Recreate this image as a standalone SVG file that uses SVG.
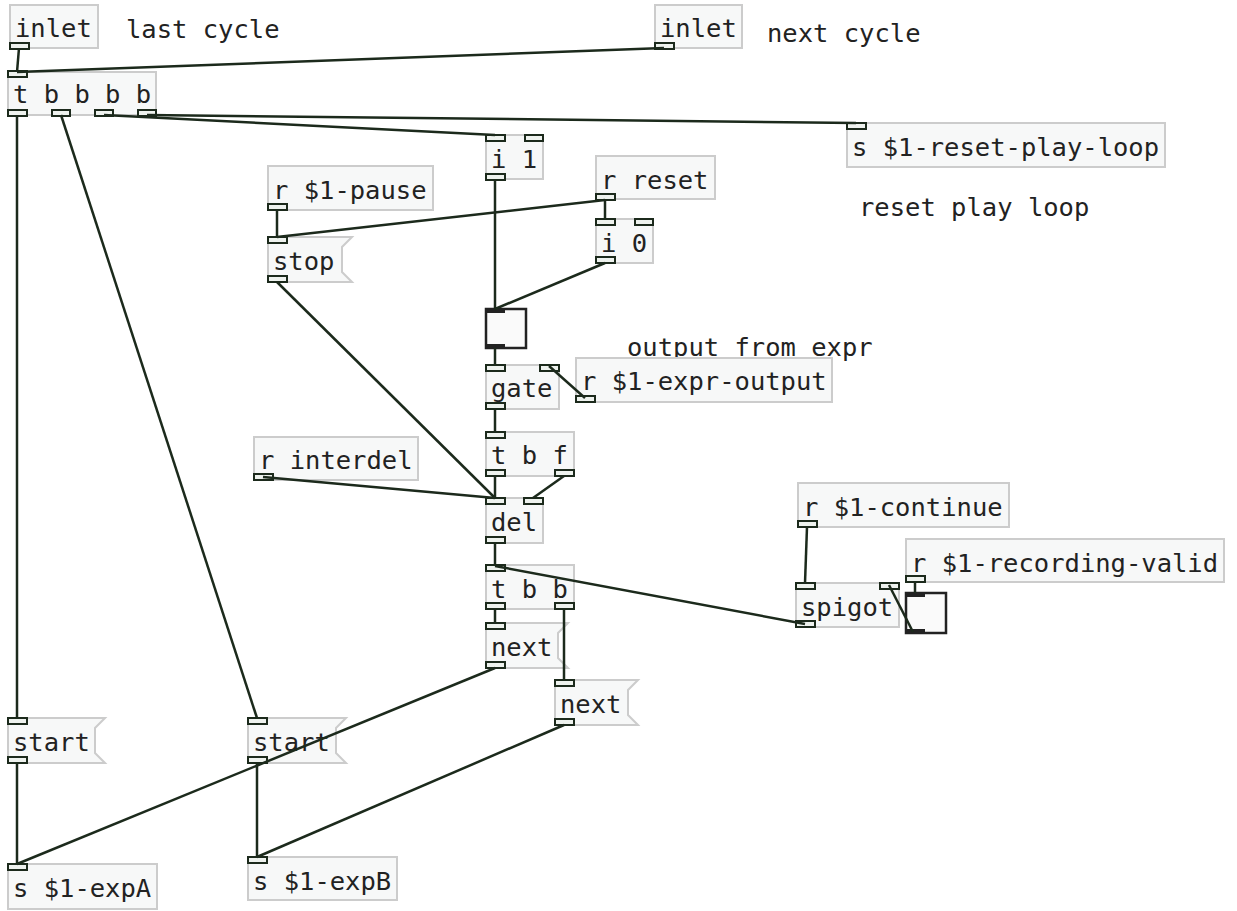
<svg xmlns="http://www.w3.org/2000/svg" width="1237" height="911" viewBox="0 0 1237 911">
<style>
.bx{fill:#f7f8f8;stroke:#cccccc;stroke-width:2}
.io{fill:#eef2ee;stroke:#1c2a1c;stroke-width:2}
.t{font-family:"DejaVu Sans Mono",monospace;font-size:25.5px;fill:#222}
.c{stroke:#1c2a1c;stroke-width:2.5;fill:none}
.tg{fill:#fafafa;stroke:#222;stroke-width:2.5}
.tb{fill:#222}
</style>
<rect width="1237" height="911" fill="#ffffff"/>
<g id="comments">
<text class="t" x="126" y="38">last cycle</text>
<text class="t" x="767" y="42">next cycle</text>
<text class="t" x="859" y="216">reset play loop</text>
<text class="t" x="627" y="356">output from expr</text>
</g>
<g id="inlet1">
<rect class="bx" x="10" y="5" width="88" height="43"/>
<text class="t" x="15" y="37">inlet</text>
<rect class="io" x="10" y="43" width="19" height="6"/>
</g>
<g id="inlet2">
<rect class="bx" x="655" y="5" width="87" height="43"/>
<text class="t" x="660" y="37">inlet</text>
<rect class="io" x="655" y="43" width="19" height="6"/>
</g>
<g id="trigger1">
<rect class="bx" x="8" y="72" width="148" height="43"/>
<text class="t" x="13" y="103">t b b b b</text>
<rect class="io" x="8" y="71" width="19" height="6"/>
<rect class="io" x="8" y="110" width="19" height="6"/>
<rect class="io" x="52" y="110" width="18" height="6"/>
<rect class="io" x="95" y="110" width="18" height="6"/>
<rect class="io" x="138" y="110" width="18" height="6"/>
</g>
<g id="send-reset">
<rect class="bx" x="847" y="123" width="318" height="44"/>
<text class="t" x="852" y="156">s $1-reset-play-loop</text>
<rect class="io" x="847" y="123" width="19" height="6"/>
</g>
<g id="i1">
<rect class="bx" x="486" y="135" width="57" height="44"/>
<text class="t" x="491" y="168">i 1</text>
<rect class="io" x="486" y="135" width="19" height="6"/>
<rect class="io" x="525" y="135" width="18" height="6"/>
<rect class="io" x="486" y="174" width="19" height="6"/>
</g>
<g id="r-pause">
<rect class="bx" x="268" y="166" width="165" height="44"/>
<text class="t" x="273" y="199">r $1-pause</text>
<rect class="io" x="268" y="204" width="19" height="6"/>
</g>
<g id="r-reset">
<rect class="bx" x="596" y="156" width="119" height="43"/>
<text class="t" x="601" y="189">r reset</text>
<rect class="io" x="596" y="194" width="19" height="6"/>
</g>
<g id="i0">
<rect class="bx" x="596" y="219" width="57" height="44"/>
<text class="t" x="601" y="252">i 0</text>
<rect class="io" x="596" y="219" width="19" height="6"/>
<rect class="io" x="635" y="219" width="18" height="6"/>
<rect class="io" x="596" y="257" width="19" height="6"/>
</g>
<g id="stop">
<path class="bx" d="M268,237 H352 L342,247 V272 L352,282 H268 Z"/>
<text class="t" x="273" y="270">stop</text>
<rect class="io" x="268" y="237" width="19" height="6"/>
<rect class="io" x="268" y="276" width="19" height="6"/>
</g>
<g id="toggle1">
<rect class="tg" x="486" y="309" width="40" height="39"/>
<rect class="tb" x="486" y="309" width="19" height="4"/>
<rect class="tb" x="486" y="344" width="19" height="4"/>
</g>
<g id="gate">
<rect class="bx" x="486" y="365" width="73" height="44"/>
<text class="t" x="491" y="397">gate</text>
<rect class="io" x="486" y="365" width="19" height="6"/>
<rect class="io" x="540" y="365" width="19" height="6"/>
<rect class="io" x="486" y="403" width="19" height="6"/>
</g>
<g id="r-expr-output">
<rect class="bx" x="576" y="358" width="256" height="44"/>
<text class="t" x="581" y="390">r $1-expr-output</text>
<rect class="io" x="576" y="396" width="19" height="6"/>
</g>
<g id="tbf">
<rect class="bx" x="486" y="432" width="88" height="44"/>
<text class="t" x="491" y="464">t b f</text>
<rect class="io" x="486" y="432" width="19" height="6"/>
<rect class="io" x="486" y="470" width="19" height="6"/>
<rect class="io" x="555" y="470" width="19" height="6"/>
</g>
<g id="r-interdel">
<rect class="bx" x="254" y="437" width="164" height="43"/>
<text class="t" x="259" y="469">r interdel</text>
<rect class="io" x="254" y="474" width="19" height="6"/>
</g>
<g id="del">
<rect class="bx" x="486" y="498" width="57" height="45"/>
<text class="t" x="491" y="531">del</text>
<rect class="io" x="486" y="498" width="19" height="6"/>
<rect class="io" x="524" y="498" width="19" height="6"/>
<rect class="io" x="486" y="537" width="19" height="6"/>
</g>
<g id="tbb">
<rect class="bx" x="486" y="565" width="88" height="44"/>
<text class="t" x="491" y="598">t b b</text>
<rect class="io" x="486" y="565" width="19" height="6"/>
<rect class="io" x="486" y="603" width="19" height="6"/>
<rect class="io" x="555" y="603" width="19" height="6"/>
</g>
<g id="r-continue">
<rect class="bx" x="798" y="483" width="211" height="44"/>
<text class="t" x="803" y="516">r $1-continue</text>
<rect class="io" x="798" y="521" width="19" height="6"/>
</g>
<g id="r-recording-valid">
<rect class="bx" x="906" y="539" width="318" height="43"/>
<text class="t" x="911" y="572">r $1-recording-valid</text>
<rect class="io" x="906" y="576" width="19" height="6"/>
</g>
<g id="spigot">
<rect class="bx" x="796" y="583" width="103" height="44"/>
<text class="t" x="801" y="616">spigot</text>
<rect class="io" x="796" y="583" width="19" height="6"/>
<rect class="io" x="880" y="583" width="19" height="6"/>
<rect class="io" x="796" y="621" width="19" height="6"/>
</g>
<g id="toggle2">
<rect class="tg" x="906" y="593" width="40" height="40"/>
<rect class="tb" x="906" y="593" width="19" height="4"/>
<rect class="tb" x="906" y="629" width="19" height="4"/>
</g>
<g id="next1">
<path class="bx" d="M486,623 H568 L558,633 V658 L568,668 H486 Z"/>
<text class="t" x="491" y="656">next</text>
<rect class="io" x="486" y="623" width="19" height="6"/>
<rect class="io" x="486" y="662" width="19" height="6"/>
</g>
<g id="next2">
<path class="bx" d="M555,680 H638 L628,690 V715 L638,725 H555 Z"/>
<text class="t" x="560" y="713">next</text>
<rect class="io" x="555" y="680" width="19" height="6"/>
<rect class="io" x="555" y="719" width="19" height="6"/>
</g>
<g id="start1">
<path class="bx" d="M8,718 H105 L95,728 V753 L105,763 H8 Z"/>
<text class="t" x="13" y="751">start</text>
<rect class="io" x="8" y="718" width="19" height="6"/>
<rect class="io" x="8" y="757" width="19" height="6"/>
</g>
<g id="start2">
<path class="bx" d="M248,718 H346 L336,728 V753 L346,763 H248 Z"/>
<text class="t" x="253" y="751">start</text>
<rect class="io" x="248" y="718" width="19" height="6"/>
<rect class="io" x="248" y="757" width="19" height="6"/>
</g>
<g id="send-expA">
<rect class="bx" x="8" y="864" width="149" height="45"/>
<text class="t" x="13" y="897">s $1-expA</text>
<rect class="io" x="8" y="864" width="19" height="6"/>
</g>
<g id="send-expB">
<rect class="bx" x="248" y="857" width="149" height="43"/>
<text class="t" x="253" y="890">s $1-expB</text>
<rect class="io" x="248" y="857" width="19" height="6"/>
</g>
<g id="connectors">
<line class="c" x1="19" y1="48" x2="17" y2="72"/>
<line class="c" x1="664" y1="48" x2="17" y2="72"/>
<line class="c" x1="17" y1="115" x2="17" y2="718"/>
<line class="c" x1="61" y1="115" x2="257" y2="718"/>
<line class="c" x1="104" y1="115" x2="495" y2="135"/>
<line class="c" x1="147" y1="115" x2="856" y2="123"/>
<line class="c" x1="17" y1="763" x2="17" y2="864"/>
<line class="c" x1="257" y1="763" x2="257" y2="857"/>
<line class="c" x1="277" y1="210" x2="277" y2="237"/>
<line class="c" x1="605" y1="200" x2="277" y2="237"/>
<line class="c" x1="605" y1="200" x2="605" y2="219"/>
<line class="c" x1="495" y1="180" x2="495" y2="309"/>
<line class="c" x1="605" y1="263" x2="495" y2="309"/>
<line class="c" x1="495" y1="348" x2="495" y2="365"/>
<line class="c" x1="585" y1="398" x2="549" y2="366"/>
<line class="c" x1="495" y1="409" x2="495" y2="432"/>
<line class="c" x1="495" y1="476" x2="495" y2="498"/>
<line class="c" x1="564" y1="476" x2="533" y2="498"/>
<line class="c" x1="277" y1="282" x2="495" y2="498"/>
<line class="c" x1="263" y1="477" x2="495" y2="498"/>
<line class="c" x1="495" y1="543" x2="495" y2="565"/>
<line class="c" x1="805" y1="624" x2="495" y2="566"/>
<line class="c" x1="807" y1="527" x2="805" y2="583"/>
<line class="c" x1="915" y1="582" x2="915" y2="593"/>
<line class="c" x1="913" y1="632" x2="889" y2="585"/>
<line class="c" x1="495" y1="609" x2="495" y2="623"/>
<line class="c" x1="564" y1="609" x2="564" y2="680"/>
<line class="c" x1="495" y1="668" x2="17" y2="864"/>
<line class="c" x1="564" y1="725" x2="257" y2="857"/>
</g>
</svg>
